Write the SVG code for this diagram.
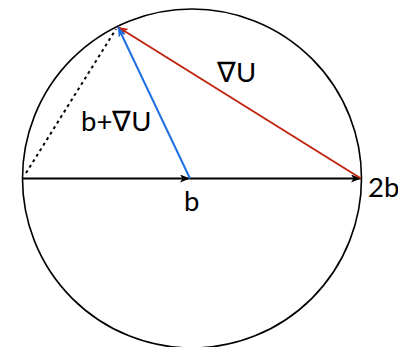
<svg xmlns="http://www.w3.org/2000/svg" width="398" height="347" viewBox="0 0 398 347">
<style>
.lbl{font-family:Lato,"Open Sans","Liberation Sans",sans-serif;font-size:27.5px;fill:#000}
.ln{fill:none;stroke-width:2}
</style>
<defs>
<marker id="ak" viewBox="0 0 10 8" refX="10" refY="4" markerWidth="10" markerHeight="8" markerUnits="userSpaceOnUse" orient="auto"><path d="M0,0 L10,4 L0,8 L2.5,4 Z" fill="#000"/></marker>
<marker id="ar" viewBox="0 0 10 8" refX="10" refY="4" markerWidth="10" markerHeight="8" markerUnits="userSpaceOnUse" orient="auto"><path d="M0,0 L10,4 L0,8 L2.5,4 Z" fill="#c1260f"/></marker>
<marker id="ab" viewBox="0 0 10 8" refX="10" refY="4" markerWidth="10" markerHeight="8" markerUnits="userSpaceOnUse" orient="auto"><path d="M0,0 L10,4 L0,8 L2.5,4 Z" fill="#1f6fe0"/></marker>
</defs>
<g id="circle"><circle cx="192" cy="178.5" r="169.5" fill="none" stroke="#000" stroke-width="1.6"/></g>
<g id="connectors">
<line class="ln" x1="22" y1="178.5" x2="190" y2="178.5" stroke="#000" marker-end="url(#ak)"/>
<line class="ln" x1="190" y1="178.5" x2="361" y2="178.5" stroke="#000" marker-end="url(#ak)"/>
<line class="ln" x1="26" y1="173" x2="116" y2="29" stroke="#000" stroke-width="2.4" stroke-dasharray="3 3.5"/>
<line class="ln" x1="361" y1="178.5" x2="118" y2="27" stroke="#c1260f" marker-end="url(#ar)"/>
<line class="ln" x1="190" y1="178.5" x2="118" y2="27" stroke="#1f6fe0" marker-end="url(#ab)"/>
</g>
<g id="labels">
<text class="lbl" x="217" y="82">∇U</text>
<text class="lbl" x="81" y="131">b+∇U</text>
<text class="lbl" x="184" y="211">b</text>
<text class="lbl" x="368" y="197">2b</text>
</g>
</svg>
